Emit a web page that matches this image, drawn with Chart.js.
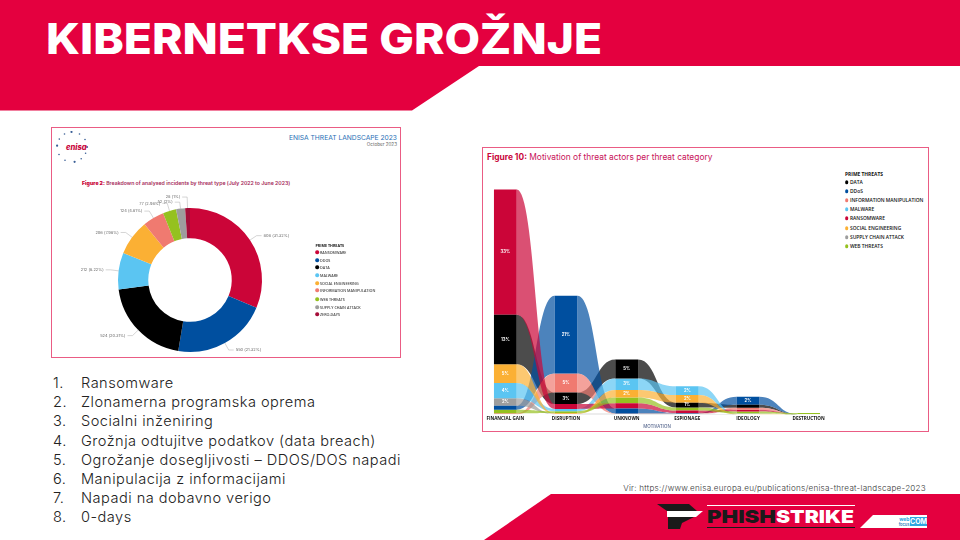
<!DOCTYPE html>
<html lang="sl"><head><meta charset="utf-8">
<script src="https://cdn.jsdelivr.net/npm/chart.js@4"></script>
<style>
html,body{margin:0;padding:0;background:#fff}
#slide{position:relative;width:960px;height:540px;overflow:hidden;background:#fff;font-family:Inter,sans-serif}
#bg{position:absolute;left:0;top:0}
.frame{position:absolute;box-sizing:border-box;background:#fff}
.abs{position:absolute;white-space:nowrap;line-height:1}
canvas{position:absolute}
ol{position:absolute;left:53px;top:374px;margin:0;padding:0;list-style:none;font-family:Inter,sans-serif;font-weight:300;font-size:14.6px;color:#222;letter-spacing:.47px}
ol li{height:19.2px;line-height:19.2px;white-space:nowrap}
ol li span{display:inline-block;width:28px}
.lg{position:absolute;white-space:nowrap;line-height:1;transform:translateY(-50%)}
.dot{position:absolute;border-radius:50%;transform:translate(-50%,-50%)}
</style></head><body>
<div id="slide">
<svg id="bg" width="960" height="540" xmlns="http://www.w3.org/2000/svg">
  <polygon points="0,0 960,0 960,66 479,66 412,110.5 0,110.5" fill="#e4003f"/>
  <polygon points="484,540 551,494 960,494 960,540" fill="#e4003f"/>
  <text x="46" y="53.8" font-family="Inter" font-weight="800" font-size="43" fill="#fff" textLength="556" lengthAdjust="spacingAndGlyphs">KIBERNETKSE GROŽNJE</text>
  <polygon points="657,504 689,504 697,511 667,511" fill="#1a1a1a"/>
  <polygon points="667,511 703,511 696,517 667,517" fill="#fff"/>
  <polygon points="668,517 694,517 682,523 680,529 668,529" fill="#1a1a1a"/>
  <rect x="707" y="505" width="148" height="1" fill="#fff"/>
  <rect x="707" y="527" width="148" height="1" fill="#1a1a1a"/>
  <text x="707" y="523" font-family="Inter" font-weight="900" font-size="18" fill="#1a1a1a" textLength="69" lengthAdjust="spacingAndGlyphs">PHISH</text>
  <text x="776" y="523" font-family="Inter" font-weight="900" font-size="18" fill="#fff" textLength="78" lengthAdjust="spacingAndGlyphs">STRIKE</text>
  <polygon points="860,528 873,515 900,515 900,528" fill="#fff"/>
  <rect x="900" y="515" width="27" height="13" fill="#fff"/>
  <rect x="910" y="517" width="17" height="9" fill="#2fa6e0"/>
  <text x="918.5" y="524.2" text-anchor="middle" font-family="Inter" font-weight="700" font-size="7" fill="#fff">COM</text>
  <text x="909.5" y="520.5" text-anchor="end" font-family="Inter" font-weight="700" font-size="5" fill="#2fa6e0">web</text>
  <text x="909.5" y="525.5" text-anchor="end" font-family="Inter" font-weight="600" font-size="4" fill="#2f7fc0">focus</text>
</svg>

<div class="frame" style="left:51px;top:127px;width:350px;height:231px;border:1.5px solid #ea5c84"></div>
<div class="frame" style="left:482px;top:147px;width:447px;height:285px;border:1.5px solid #ea5c84"></div>

<svg id="enisaRing" style="position:absolute;left:54px;top:131px" width="36" height="36" xmlns="http://www.w3.org/2000/svg"></svg>
<div class="abs" style="left:66px;top:143px;font:italic 800 7.6px Inter,sans-serif;color:#c9053b">enisa</div>
<div class="abs" style="right:563px;top:134px;font:400 6.7px Inter,sans-serif;color:#1f6fb5">ENISA THREAT LANDSCAPE 2023</div>
<div class="abs" style="right:563px;top:141.5px;font:400 4.6px Inter,sans-serif;color:#666">October 2023</div>
<div class="abs" style="left:82px;top:179.5px;font:600 5.2px Inter,sans-serif;color:#c9053b"><b>Figure 2:</b> <span style="color:#a52a5a">Breakdown of analysed incidents by threat type (July 2022 to June 2023)</span></div>

<div class="abs" style="left:487px;top:152px;font:400 8.4px Inter,sans-serif;color:#c9053b"><b>Figure 10:</b> <span style="color:#c8125a">Motivation of threat actors per threat category</span></div>

<canvas id="donut" width="345" height="228" style="left:53px;top:128px;width:345px;height:228px"></canvas>
<canvas id="ribbon" width="364" height="252" style="left:475px;top:179px;width:364px;height:252px"></canvas>
<div id="legends"></div>

<ol id="list"></ol>
<div class="abs" style="right:34px;top:483px;font:300 8.1px Inter,sans-serif;color:#333;letter-spacing:.25px">Vir: https://www.enisa.europa.eu/publications/enisa-threat-landscape-2023</div>
</div>

<script>
// ---------- slide text ----------
const listItems = ["Ransomware","Zlonamerna programska oprema","Socialni inženiring","Grožnja odtujitve podatkov (data breach)","Ogrožanje dosegljivosti – DDOS/DOS napadi","Manipulacija z informacijami","Napadi na dobavno verigo","0-days"];

// ---------- Figure 2: doughnut ----------
const donutLabels = ["RANSOMWARE","DDOS","DATA","MALWARE","SOCIAL ENGINEERING","INFORMATION MANIPULATION","WEB THREATS","SUPPLY CHAIN ATTACK","ZERO-DAYS"];
const donutValues = [808,550,524,212,206,124,77,52,28];
const donutTexts = ["808 (31.32%)","550 (21.32%)","524 (20.31%)","212 (8.22%)","206 (7.98%)","124 (4.81%)","77 (2.98%)","52 (2%)","28 (1%)"];
const donutColors = ["#cb0538","#004f9f","#000000","#5bc5f2","#fbb034","#f07a70","#95c11f","#9d9d9d","#a50d38"];

// ---------- Figure 10: ribbon ----------
const motivations = ["FINANCIAL GAIN","DISRUPTION","UNKNOWN","ESPIONAGE","IDEOLOGY","DESTRUCTION"];
const threatNames = ["DATA","DDoS","INFORMATION MANIPULATION","MALWARE","RANSOMWARE","SOCIAL ENGINEERING","SUPPLY CHAIN ATTACK","WEB THREATS"];
const threatColors = ["#000000","#004f9f","#f07a70","#5bc5f2","#cb0538","#fbb034","#9d9d9d","#95c11f"];
const dataThreat = [13,3,5,1.3,0.8,0];
const ddosThreat = [1,20.5,1.3,0.1,2.1,0];
const infoThreat = [0.2,5,0.1,0.1,0.5,0];
const malwareThreat = [4,0.6,3,2.3,0.1,0];
const ransomThreat = [33,1.3,1.4,0.7,0.5,0];
const socialThreat = [5,0.2,2,2,0.1,0];
const supplyThreat = [2,0.1,0.1,0.1,0,0];
const webThreat = [1,0.5,1.5,0.75,0.5,0.3];
const threatValues = [dataThreat,ddosThreat,infoThreat,malwareThreat,ransomThreat,socialThreat,supplyThreat,webThreat];

// ---------- static DOM built from the arrays ----------
document.getElementById('list').innerHTML = listItems.map((t,i)=>`<li><span>${i+1}.</span>${t}</li>`).join('');
const ring = document.getElementById('enisaRing');
let dots='';
[0,25,52,80,118,150,185,212,240,268,300,330].forEach((a,i)=>{
  const r=a*Math.PI/180, x=18+15*Math.cos(r), y=16+15*Math.sin(r);
  dots+=`<circle cx="${x.toFixed(1)}" cy="${y.toFixed(1)}" r="${i%3?0.8:1.1}" fill="#3a5f96"/>`;
});
ring.innerHTML=dots;

function legend(title,names,colors,x,tx,ys,font,color){
  let h=`<div class="lg" style="left:${x}px;top:${ys[0]}px;font:700 ${font}px 'Open Sans',sans-serif;color:#111">${title}</div>`;
  names.forEach((n,i)=>{
    h+=`<div class="dot" style="left:${x+1.7}px;top:${ys[i+1]}px;width:3.6px;height:3.6px;background:${colors[i]}"></div>`;
    h+=`<div class="lg" style="left:${tx}px;top:${ys[i+1]}px;font:600 ${font}px 'Open Sans',sans-serif;color:${color}">${n}</div>`;
  });
  return h;
}
document.getElementById('legends').innerHTML =
  legend("PRIME THREATS",donutLabels,donutColors,315.5,320,[245,252,260,267,275,283,290,299,307,314],3.7,"#444") +
  legend("PRIME THREATS",threatNames,threatColors,845,850,[174,182,191,200,209,218,228,237,246],4.9,"#111");

// ---------- doughnut with leader labels ----------
const leaderLen=[8,8,8,8,8,8,8,6.5,11];
const leaderPlugin={id:'leaders',afterDatasetsDraw(c){
  const ctx=c.ctx, arcs=c.getDatasetMeta(0).data;
  ctx.save();ctx.font="400 4px Inter,sans-serif";ctx.textBaseline='middle';
  arcs.forEach((a,i)=>{
    const m=(a.startAngle+a.endAngle)/2, cx=a.x, cy=a.y, R=a.outerRadius;
    const dx=Math.cos(m), dy=Math.sin(m), side=dx>=0?1:-1;
    const x1=cx+dx*R,y1=cy+dy*R,x2=cx+dx*(R+leaderLen[i]),y2=cy+dy*(R+leaderLen[i]),x3=x2+side*5;
    ctx.strokeStyle='#aaa';ctx.lineWidth=.5;ctx.beginPath();ctx.moveTo(x1,y1);ctx.lineTo(x2,y2);ctx.lineTo(x3,y2);ctx.stroke();
    ctx.fillStyle='#666';ctx.textAlign=side>0?'left':'right';ctx.fillText(donutTexts[i],x3+side*2,y2);
  });
  ctx.restore();
}};
new Chart(document.getElementById('donut'),{
  type:'doughnut',
  data:{labels:donutLabels,datasets:[{data:donutValues,backgroundColor:donutColors,borderWidth:0}]},
  options:{responsive:false,animation:false,cutout:'58%',
    layout:{padding:{left:65,right:136,top:80,bottom:4}},
    plugins:{legend:{display:false},tooltip:{enabled:false}}},
  plugins:[leaderPlugin]
});

// ---------- ribbon chart: floating bars sorted per column, ribbons joining them ----------
const BAR_FRAC=0.375;
const spans=threatValues.map(()=>motivations.map(()=>null));
motivations.forEach((_,col)=>{
  const order=threatValues.map((v,i)=>[v[col],i]).sort((a,b)=>b[0]-a[0]||a[1]-b[1]);
  let base=order.reduce((s,o)=>s+o[0],0);
  order.forEach(([v,i])=>{spans[i][col]=[base-v,base];base-=v;});
});
const ribbonPlugin={id:'ribbons',beforeDatasetsDraw(c){
  const ctx=c.ctx,X=c.scales.x,Y=c.scales.y;
  const bw=(X.getPixelForValue(1)-X.getPixelForValue(0))*BAR_FRAC;
  ctx.save();ctx.globalAlpha=.7;
  threatValues.forEach((vals,s)=>{
    ctx.fillStyle=threatColors[s];
    for(let i=0;i<motivations.length-1;i++){
      if(vals[i]===0&&vals[i+1]===0) continue;
      const x0=X.getPixelForValue(i)+bw/2,x1=X.getPixelForValue(i+1)-bw/2,xm=(x0+x1)/2;
      const [l0,h0]=spans[s][i],[l1,h1]=spans[s][i+1];
      ctx.beginPath();
      ctx.moveTo(x0,Y.getPixelForValue(h0));
      ctx.bezierCurveTo(xm,Y.getPixelForValue(h0),xm,Y.getPixelForValue(h1),x1,Y.getPixelForValue(h1));
      ctx.lineTo(x1,Y.getPixelForValue(l1));
      ctx.bezierCurveTo(xm,Y.getPixelForValue(l1),xm,Y.getPixelForValue(l0),x0,Y.getPixelForValue(l0));
      ctx.closePath();ctx.fill();
    }
  });
  ctx.restore();
},afterDatasetsDraw(c){
  const ctx=c.ctx,X=c.scales.x,Y=c.scales.y;
  ctx.save();ctx.fillStyle='#fff';ctx.font="700 4.2px Inter,sans-serif";ctx.textAlign='center';ctx.textBaseline='middle';
  threatValues.forEach((vals,s)=>vals.forEach((v,i)=>{
    if(v>=2||(s===0&&v>=1)){
      const [l,h]=spans[s][i];
      ctx.fillText(Math.round(v)+'%',X.getPixelForValue(i),Y.getPixelForValue((l+h)/2));
    }
  }));
  ctx.restore();
}};
new Chart(document.getElementById('ribbon'),{
  type:'bar',
  data:{labels:motivations,datasets:threatNames.map((n,s)=>({label:n,data:spans[s],backgroundColor:threatColors[s],borderWidth:0,
    barPercentage:BAR_FRAC,categoryPercentage:1,grouped:false}))},
  options:{responsive:false,animation:false,
    layout:{padding:0},
    scales:{
      x:{grid:{display:false,drawTicks:false},border:{display:false},
        ticks:{color:'#111',font:{family:"'Open Sans',sans-serif",size:4.6,weight:'700'},padding:2,maxRotation:0,autoSkip:false},
        title:{display:true,text:'MOTIVATION',color:'#5a6a90',font:{family:"'Open Sans',sans-serif",size:4.4,weight:'600'},padding:{top:0,bottom:2}}},
      y:{display:false,min:0,max:62}
    },
    plugins:{legend:{display:false},tooltip:{enabled:false}}},
  plugins:[ribbonPlugin]
});
</script>
</body></html>
